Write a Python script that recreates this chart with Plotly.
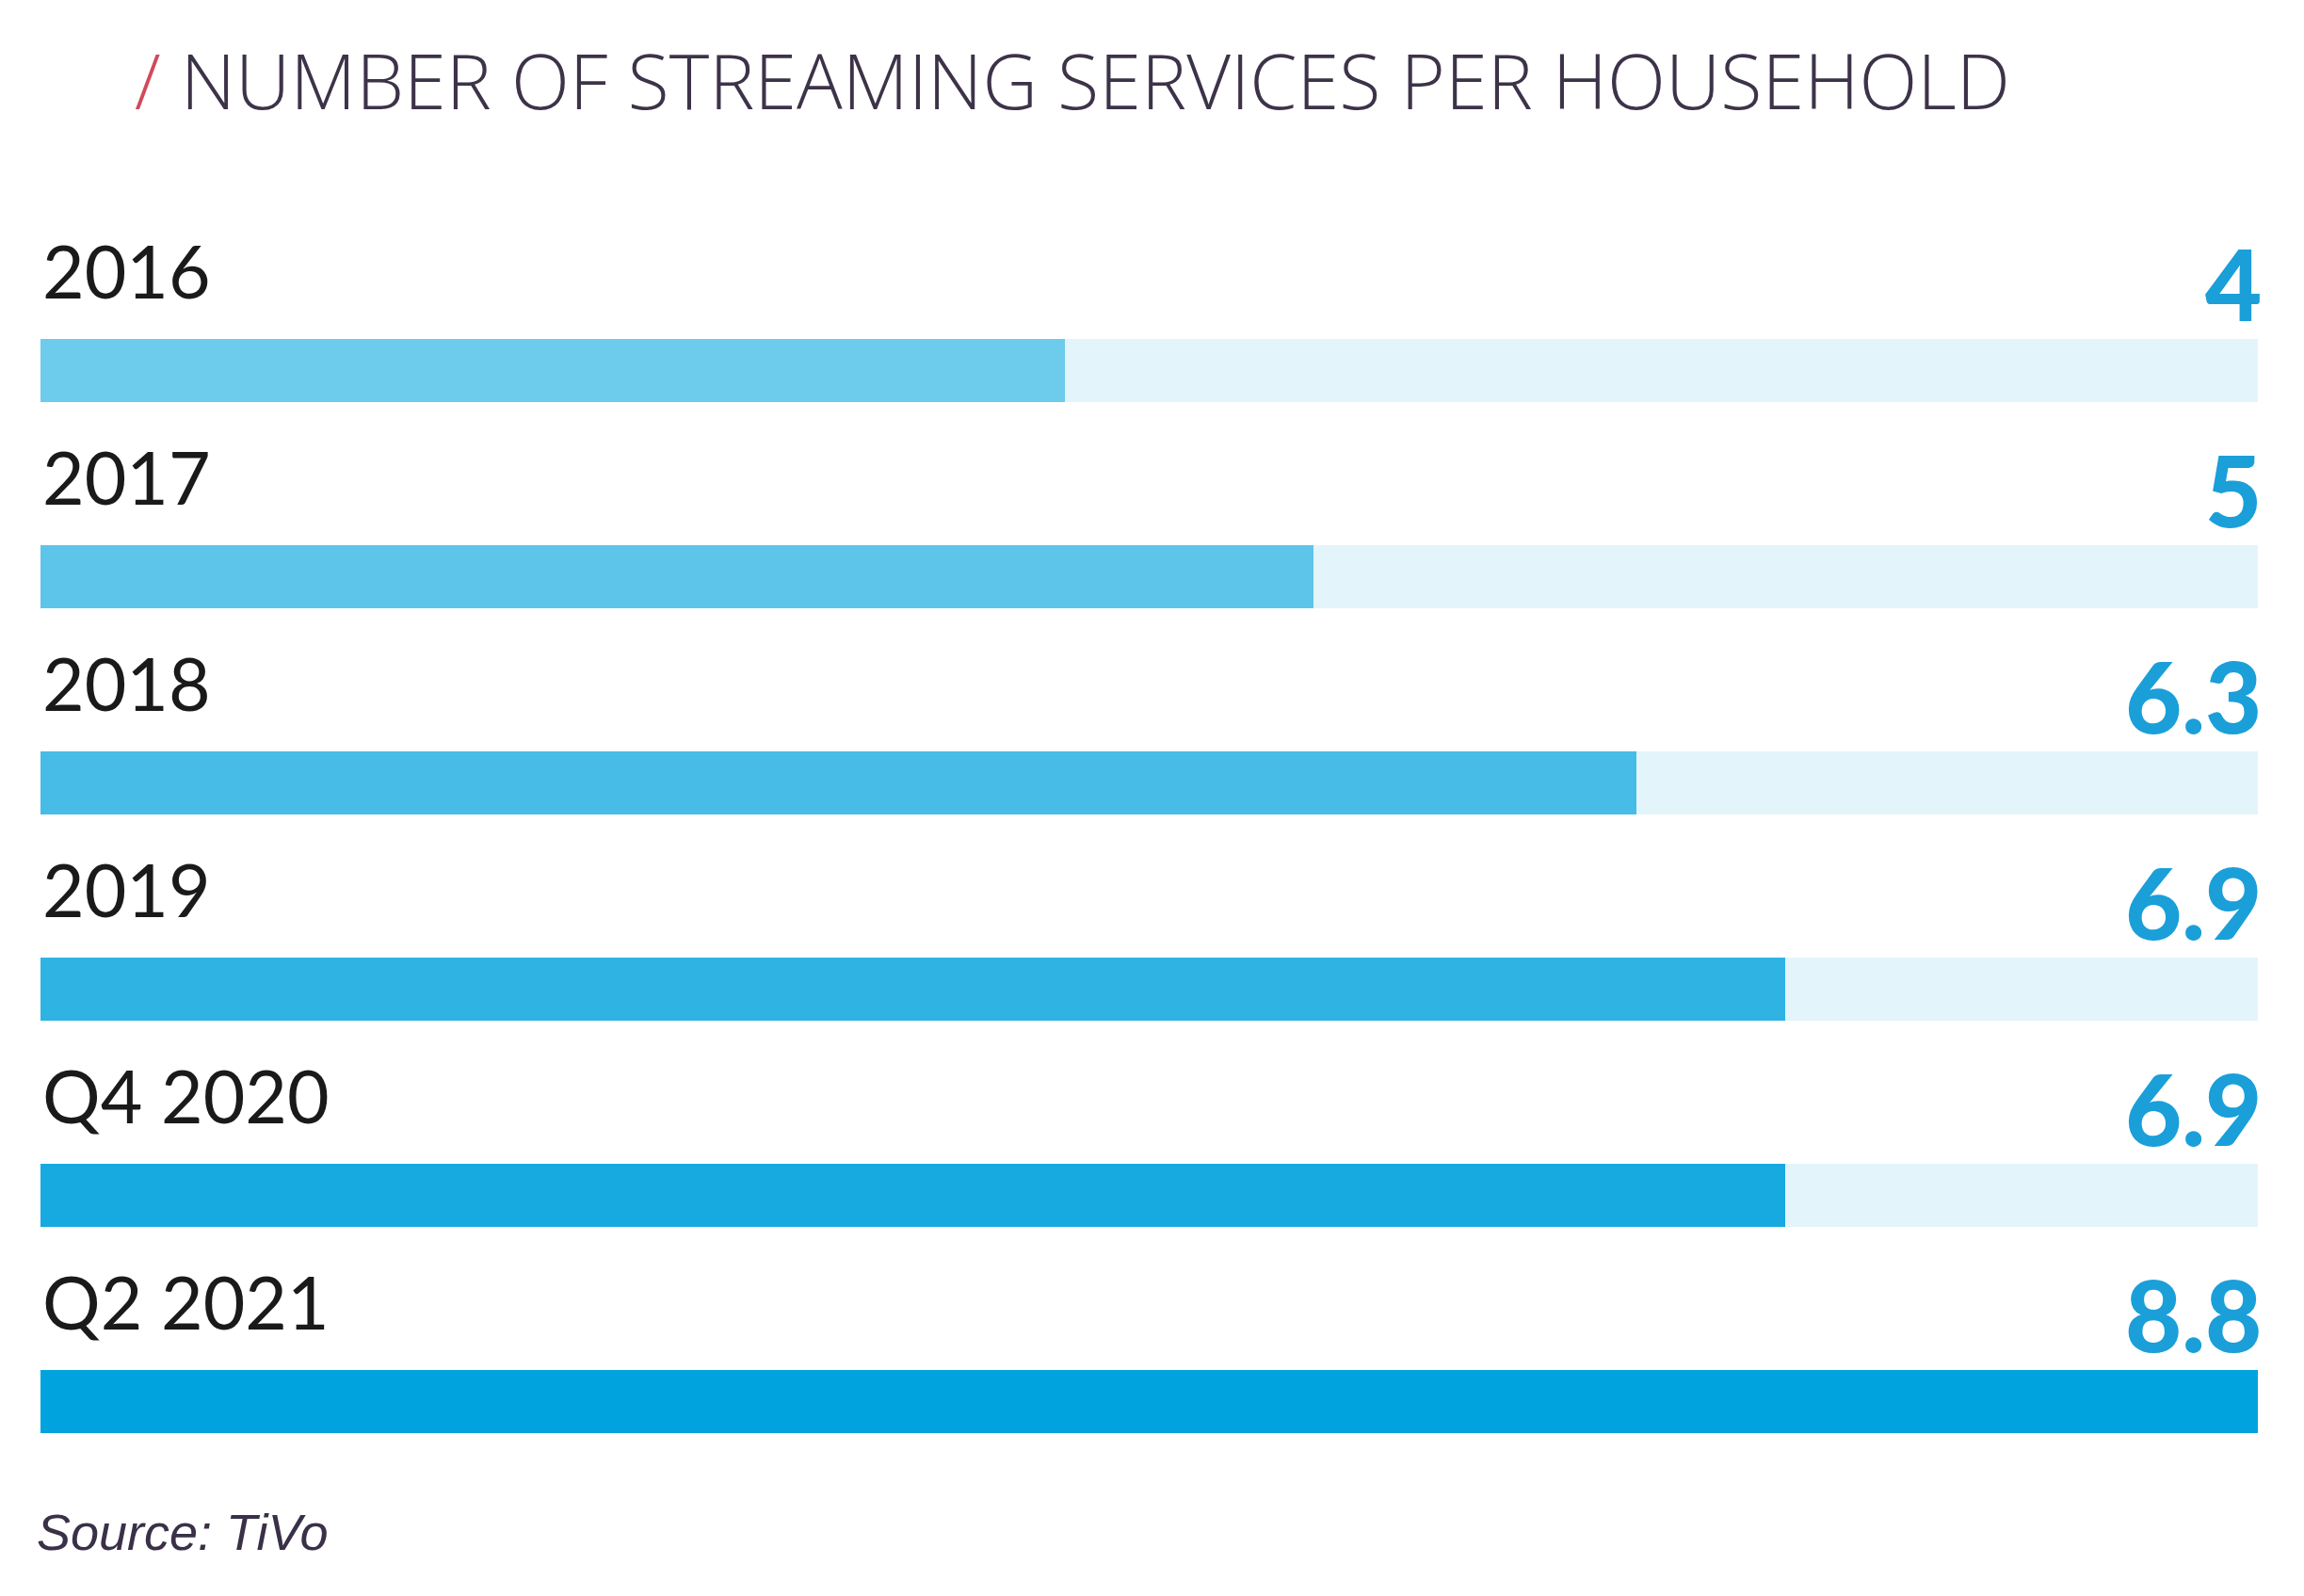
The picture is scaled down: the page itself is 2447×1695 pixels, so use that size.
import plotly.graph_objects as go

categories = ["2016", "2017", "2018", "2019", "Q4 2020", "Q2 2021"]
values = [4, 5, 6.3, 6.9, 6.9, 8.8]
value_labels = ["4", "5", "6.3", "6.9", "6.9", "8.8"]
bar_colors = ["#6dcbec", "#5ec5ea", "#47bce6", "#2fb3e3", "#16aae0", "#00a3de"]
track_color = "#e3f4fb"
value_color = "#1a9fd9"
title_text = "NUMBER OF STREAMING SERVICES PER HOUSEHOLD"
source_text = "Source: TiVo"

W, H = 2447, 1695
L, R, T, B = 43, 49, 284, 97
xmax = max(values)
x0 = -0.12  # bars start a touch left of zero, as in the reference
pos = list(range(len(categories)))

fig = go.Figure()
fig.add_trace(go.Bar(
    y=pos, x=[xmax - x0] * len(categories), base=x0, orientation="h",
    marker=dict(color=track_color, line=dict(width=0)),
    width=0.31, hoverinfo="skip", showlegend=False,
))
fig.add_trace(go.Bar(
    y=pos, x=[v - x0 for v in values], base=x0, orientation="h", customdata=list(zip(categories, values)),
    hovertemplate="%{customdata[0]}: %{customdata[1]}<extra></extra>",
    marker=dict(color=bar_colors, line=dict(width=0)),
    width=0.31, showlegend=False,
))

annotations = []
for p, cat, lab in zip(pos, categories, value_labels):
    annotations.append(dict(
        x=0, xref="paper", y=p, yref="y", xanchor="left", yanchor="middle",
        text=cat, showarrow=False, xshift=0, yshift=107,
        font=dict(family="Lato", size=77, color="#1a1a1a"),
    ))
    annotations.append(dict(
        x=1, xref="paper", y=p, yref="y", xanchor="right", yanchor="middle",
        text=lab, showarrow=False, xshift=6, yshift=93,
        font=dict(family="Lato", size=104, color=value_color, weight=900),
    ))
annotations.append(dict(
    x=-6 / (W - L - R), xref="paper", y=(H - B - 1627) / (H - T - B), yref="paper",
    xanchor="left", yanchor="middle", text=f"<i>{source_text}</i>", showarrow=False,
    font=dict(family="Liberation Sans", size=54, color="#3a3048"),
))

fig.update_layout(
    width=W, height=H,
    margin=dict(l=L, r=R, t=T, b=B),
    paper_bgcolor="white", plot_bgcolor="white",
    barmode="overlay",
    bargap=0,
    title=dict(
        text=f"<span style='color:#d2495a'>/</span> {title_text}",
        xref="container", yref="container",
        x=143 / W, y=1 - 88 / H, xanchor="left", yanchor="middle",
        font=dict(family="Open Sans", size=81, color="#3d3349", weight=300),
    ),
    xaxis=dict(range=[x0, xmax], visible=False, fixedrange=True),
    yaxis=dict(range=[len(categories) - 0.5, -0.5], visible=False, fixedrange=True),
    annotations=annotations,
)

fig.write_html("out.html")
